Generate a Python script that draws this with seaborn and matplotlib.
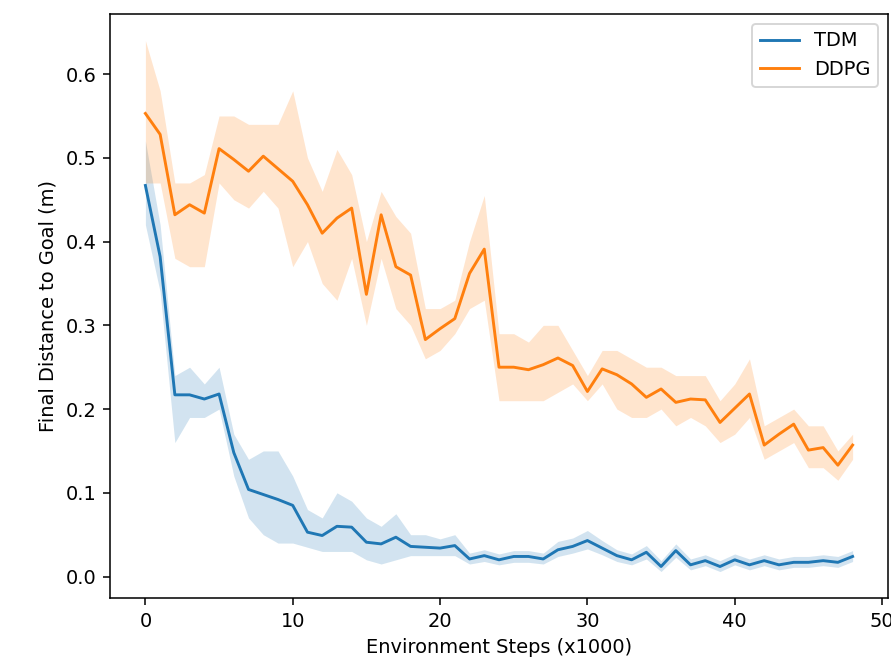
import pandas as pd
import matplotlib
matplotlib.use("Agg")
import matplotlib.pyplot as plt
import seaborn as sns


# ===== Data =====
steps = list(range(49))

tdm_mean = [0.467, 0.382, 0.217, 0.217, 0.212, 0.218, 0.148, 0.104, 0.098, 0.092,
            0.085, 0.053, 0.049, 0.060, 0.059, 0.041, 0.039, 0.047, 0.036, 0.035,
            0.034, 0.037, 0.021, 0.025, 0.020, 0.024, 0.024, 0.021, 0.032, 0.036,
            0.043, 0.034, 0.025, 0.020, 0.029, 0.012, 0.031, 0.014, 0.019, 0.012,
            0.020, 0.014, 0.019, 0.014, 0.017, 0.017, 0.019, 0.017, 0.024]
tdm_low = [0.42, 0.34, 0.16, 0.19, 0.19, 0.20, 0.12, 0.07, 0.05, 0.04,
           0.04, 0.035, 0.03, 0.03, 0.03, 0.02, 0.015, 0.02, 0.025, 0.025,
           0.025, 0.025, 0.015, 0.018, 0.014, 0.017, 0.017, 0.015, 0.024, 0.028,
           0.033, 0.026, 0.018, 0.014, 0.021, 0.006, 0.023, 0.008, 0.013, 0.006,
           0.014, 0.008, 0.013, 0.008, 0.011, 0.011, 0.013, 0.011, 0.018]
tdm_high = [0.52, 0.42, 0.24, 0.25, 0.23, 0.25, 0.17, 0.14, 0.15, 0.15,
            0.12, 0.08, 0.07, 0.10, 0.09, 0.07, 0.06, 0.075, 0.05, 0.05,
            0.045, 0.05, 0.028, 0.032, 0.027, 0.031, 0.031, 0.028, 0.042, 0.046,
            0.055, 0.043, 0.032, 0.027, 0.037, 0.019, 0.039, 0.021, 0.026, 0.019,
            0.027, 0.021, 0.026, 0.021, 0.024, 0.024, 0.026, 0.024, 0.031]

ddpg_mean = [0.553, 0.528, 0.432, 0.444, 0.434, 0.511, 0.498, 0.484, 0.502, 0.487,
             0.472, 0.444, 0.410, 0.428, 0.440, 0.337, 0.432, 0.370, 0.360, 0.283,
             0.296, 0.308, 0.362, 0.391, 0.250, 0.250, 0.247, 0.253, 0.261, 0.252,
             0.221, 0.248, 0.241, 0.230, 0.214, 0.224, 0.208, 0.212, 0.211, 0.184,
             0.201, 0.218, 0.157, 0.170, 0.182, 0.151, 0.154, 0.133, 0.157]
ddpg_low = [0.47, 0.47, 0.38, 0.37, 0.37, 0.47, 0.45, 0.44, 0.46, 0.44,
            0.37, 0.40, 0.35, 0.33, 0.38, 0.30, 0.38, 0.32, 0.30, 0.26,
            0.27, 0.29, 0.32, 0.33, 0.21, 0.21, 0.21, 0.21, 0.22, 0.23,
            0.21, 0.23, 0.20, 0.19, 0.19, 0.20, 0.18, 0.19, 0.18, 0.16,
            0.17, 0.19, 0.14, 0.15, 0.16, 0.13, 0.13, 0.115, 0.14]
ddpg_high = [0.64, 0.58, 0.47, 0.47, 0.48, 0.55, 0.55, 0.54, 0.54, 0.54,
             0.58, 0.50, 0.46, 0.51, 0.48, 0.40, 0.46, 0.43, 0.41, 0.32,
             0.32, 0.33, 0.40, 0.455, 0.29, 0.29, 0.28, 0.30, 0.30, 0.27,
             0.24, 0.27, 0.27, 0.26, 0.25, 0.25, 0.24, 0.24, 0.24, 0.21,
             0.23, 0.26, 0.18, 0.19, 0.20, 0.18, 0.18, 0.15, 0.17]

series = [
    ("TDM", tdm_mean, tdm_low, tdm_high, "tab:blue"),
    ("DDPG", ddpg_mean, ddpg_low, ddpg_high, "tab:orange"),
]

# ===== Plot =====
fig = plt.figure(figsize=(891 / 139.2, 669 / 139.2), dpi=139.2)
ax = fig.add_axes([0.1235, 0.106, 0.8731, 0.873])

for name, mean, low, high, color in series:
    df = pd.DataFrame({"step": steps, "dist": mean})
    sns.lineplot(data=df, x="step", y="dist", ax=ax, color=color, label=name,
                 linewidth=1.5)
    ax.fill_between(steps, low, high, color=color, alpha=0.2, linewidth=0)

ax.set_xticks([0, 10, 20, 30, 40, 50])
ax.set_xlabel("Environment Steps (x1000)")
ax.set_ylabel("Final Distance to Goal (m)")
ax.legend(loc="upper right")

fig.savefig("out.png", dpi=139.2)
